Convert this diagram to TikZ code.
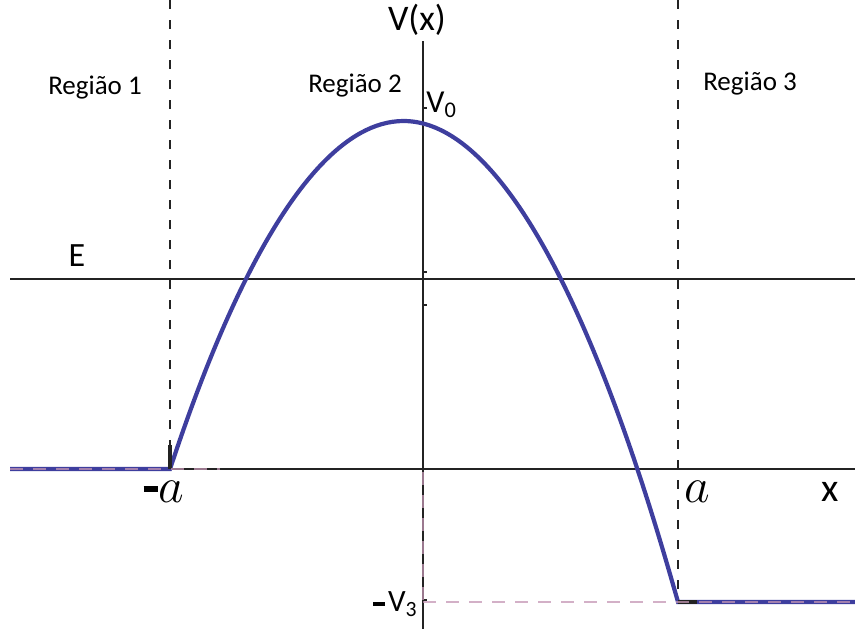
\documentclass[tikz,border=0pt]{standalone}
\usepackage{fontspec}
\setmainfont{Carlito}
\usetikzlibrary{positioning}
\definecolor{curveblue}{RGB}{62,62,158}
\definecolor{guidepink}{RGB}{196,150,180}
\definecolor{axisgray}{RGB}{35,35,35}
\newcommand{\negdash}[3]{\rule[#3]{#1}{#2}}

\begin{document}
\begin{tikzpicture}[
    x=0.5pt, y=-0.5pt,
    axis/.style={axisgray, line width=0.9pt},
    guide/.style={axisgray, line width=0.7pt, dash pattern=on 4.5pt off 5.5pt},
    pinkguide/.style={guidepink, opacity=0.75, line width=1.4pt, dash pattern=on 6.5pt off 5pt},
    curve/.style={curveblue, line width=2.1pt},
    tickmark/.style={axisgray, line width=0.8pt},
    reglbl/.style={font=\fontsize{13.5}{15}\selectfont, inner sep=0pt},
    axlbl/.style={font=\fontsize{17}{19}\selectfont, inner sep=0pt},
    ptlbl/.style={font=\fontsize{27}{30}\selectfont, inner sep=0pt},
  ]
    \useasboundingbox (0,0) rectangle (855,629);

    % Key points
    \coordinate (xleft) at (10,469);
    \coordinate (xright) at (855,469);
    \coordinate (ytop) at (423,41);
    \coordinate (ybot) at (423,629);
    \coordinate (eleft) at (10,279);
    \coordinate (eright) at (855,279);
    \coordinate (lwall) at (170,469);
    \coordinate (lwalltop) at (170,0);
    \coordinate (rwall) at (678,602);
    \coordinate (rwalltop) at (678,0);
    \coordinate (peak) at (403.5,121);
    \coordinate (rend) at (855,602);
    \coordinate (vthree) at (423,602);
    \coordinate (pinkend) at (220,469);

    % Axes and energy level
    \draw[axis] (xleft) -- (xright);
    \draw[axis] (ytop) -- (ybot);
    \draw[axis] (eleft) -- (eright);

    % Region borders
    \draw[guide] (lwalltop) -- (lwall);
    \draw[guide] (rwalltop) -- (rwall);

    % Ticks on the V axis
    \foreach \ty in {108,272,305,600}
      \draw[tickmark] (423,\ty) -- ++(4,0);

    % Potential
    \draw[curve] (xleft) -- (lwall) parabola bend (peak) (rwall) -- (rend);
    \draw[axisgray, line width=1.6pt] (170,445) -- (lwall);
    \draw[axisgray, line width=2pt] (rwall) -- ++(19,0);

    % Level guides
    \draw[pinkguide] (xleft) -- (pinkend);
    \draw[pinkguide] (vthree) -- (rend);
    \draw[pinkguide] (423,472) -- (vthree);

    % Labels
    \node[reglbl] (reg1) at (95,88) {Região 1};
    \node[reglbl] (reg2) at (355,86) {Região 2};
    \node[reglbl] (reg3) at (750,84) {Região 3};
    \node[axlbl, font=\fontsize{18}{20}\selectfont] (vlbl) at (417,20) {V(x)};
    \node[axlbl, font=\fontsize{16}{18}\selectfont, anchor=west] (vzero) at (426,105) {V\textsubscript{0}};
    \node[axlbl] (elbl) at (77,256) {E};
    \node[axlbl, font=\fontsize{20}{22}\selectfont] (xlbl) at (830,492) {x};
    \node[ptlbl] (minusa) at (164,492) {\negdash{7pt}{2.6pt}{5.6pt}\hspace{0.5pt}$a$};
    \node[ptlbl] (plusa) at (697,492) {$a$};
    \node[axlbl, font=\fontsize{15.5}{17}\selectfont, anchor=east] (vthr) at (418,604) {\negdash{6pt}{2pt}{3pt}\hspace{1.5pt}V\textsubscript{3}};
  \end{tikzpicture}
\end{document}
